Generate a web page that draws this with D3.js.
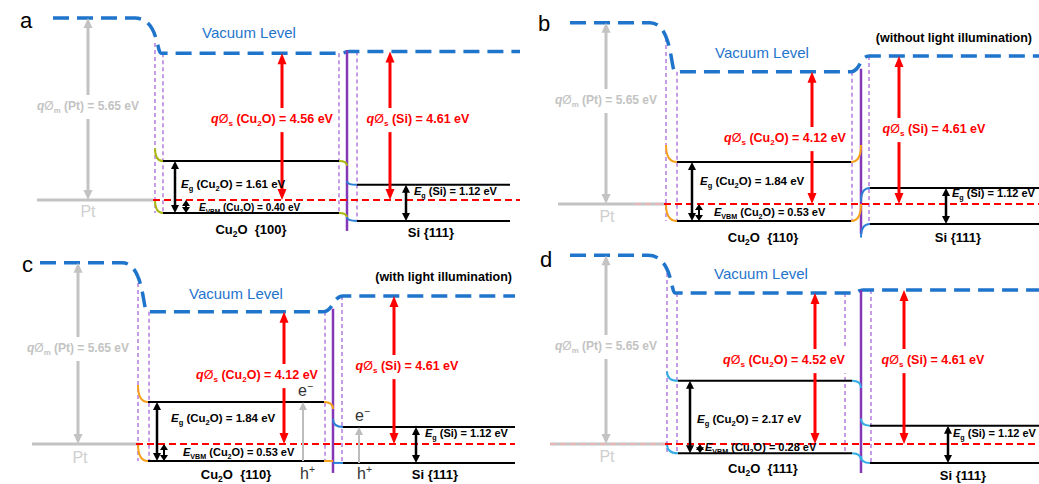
<!DOCTYPE html>
<html>
<head>
<meta charset="utf-8">
<script src="https://cdn.jsdelivr.net/npm/d3@7"></script>
<style>
  body { margin: 0; background: #fff; }
  text { font-family: Arial, "Liberation Sans", sans-serif; }
</style>
</head>
<body>
<script>
// ---- values shown in the figure ----
const panelIds = ["a", "b", "c", "d"];
const facets = ["{100}", "{110}", "{110}", "{111}"];
const notes = ["", "(without light illumination)", "(with light illumination)", ""];
const phiPt = 5.65;
const phiCu2O = [4.56, 4.12, 4.12, 4.52];
const egCu2O = [1.61, 1.84, 1.84, 2.17];
const evbmCu2O = [0.40, 0.53, 0.53, 0.28];
const phiSi = 4.61;
const egSi = 1.12;
// Si valence band below E_F, not labelled
const siVBM = [0.65, 0.62, 0.59, 0.57];
// band bending at the Cu2O / Si junction (eV, + is up)
const cuBendCB = [-0.15, 0.53, -0.22, -0.21];
const cuBendVB = [-0.15, 0.53, 0, -0.21];
const siBendCB = [0.12, -0.42, 0.25, 0.21];
const siBendVB = [0.12, -0.42, 0, 0.21];
const showCarriers = [false, false, true, false];

// ---- layout of each panel (pixels, panel local) ----
const geo = [
  {ox: 0, oy: 0, fy: 200, k: 32.2, letter: [20, 28], ptX0: 53, ptCorner: 135, d1: 155, d2: 163, d3: 339, d4: 357,
   cuX0: 163, cuX1: 339, purple: 347, siX0: 357, siX1: 510, vacStep: [341, 349], end: 520, ptLine: [37, 153], faint: null,
   phiMX: 88, phiMLabelY: 110, ptLabel: [88, 217], vacLabel: [249, 38], phiCuX: 282, phiCuLabel: [272, 123],
   phiSiX: 390, phiSiLabel: [418, 123], egX: 175, egLabel: [181, 188], evbmX: 186, evbmLabel: [199, 211], evbmSize: 10,
   egSiX: 406, egSiLabel: [414, 195], cuName: [251, 234], siName: [431, 237], d1Top: 43, note: null,
   cuColor: "#aab814", siColor: "#2b7fd6"},
  {ox: 520, oy: 0, fy: 204, k: 32.1, letter: [18, 31], ptX0: 50, ptCorner: 130, d1: 146, d2: 157, d3: 332, d4: 349,
   cuX0: 157, cuX1: 331, purple: 341, siX0: 350, siX1: 519, vacStep: [331, 349], end: 519, ptLine: [38, 146], faint: 115,
   phiMX: 86, phiMLabelY: 104, ptLabel: [87, 222], vacLabel: [242, 58], phiCuX: 292, phiCuLabel: [265, 142],
   phiSiX: 379, phiSiLabel: [414, 133], egX: 172, egLabel: [180, 185], evbmX: 179, evbmLabel: [194, 216], evbmSize: 11,
   egSiX: 426, egSiLabel: [432, 197], cuName: [243, 242], siName: [438, 242], d1Top: 38, note: [512, 42],
   cuColor: "#f5a11c", siColor: "#2b7fd6"},
  {ox: 0, oy: 240, fy: 204, k: 32.1, letter: [22, 32], ptX0: 40, ptCorner: 122, d1: 138, d2: 149, d3: 325, d4: 342,
   cuX0: 148, cuX1: 324, purple: 333, siX0: 343, siX1: 515, vacStep: [323, 343], end: 515, ptLine: [32, 140], faint: null,
   phiMX: 78, phiMLabelY: 112, ptLabel: [80, 223], vacLabel: [236, 59], phiCuX: 284, phiCuLabel: [257, 139],
   phiSiX: 394, phiSiLabel: [407, 130], egX: 157, egLabel: [171, 182], evbmX: 164, evbmLabel: [183, 216], evbmSize: 11,
   egSiX: 416, egSiLabel: [425, 197], cuName: [236, 239], siName: [435, 239], d1Top: 43, note: [512, 41],
   cuColor: "#f5a11c", siColor: "#2b7fd6",
   carrierX: [303, 359], eLabels: [[298, 156], [355, 181]], hLabels: [[300, 239], [357, 239]]},
  {ox: 520, oy: 240, fy: 204, k: 33.4, letter: [20, 27], ptX0: 50, ptCorner: 128, d1: 147, d2: 157, d3: 325, d4: 351,
   cuX0: 158, cuX1: 332, purple: 341, siX0: 350, siX1: 519, vacStep: [333, 343], end: 519, ptLine: [30, 147], faint: 30,
   phiMX: 86, phiMLabelY: 110, ptLabel: [87, 222], vacLabel: [241, 39], phiCuX: 295, phiCuLabel: [264, 124],
   phiSiX: 384, phiSiLabel: [413, 124], egX: 170, egLabel: [177, 183], evbmX: 180, evbmLabel: [185, 211], evbmSize: 11,
   egSiX: 428, egSiLabel: [433, 197], cuName: [243, 233], siName: [443, 240], d1Top: 33, note: null,
   cuColor: "#35ade4", siColor: "#35ade4"}
];

const W = 1039, H = 484;
const svg = d3.select("body").append("svg").attr("width", W).attr("height", H);

// text made of pieces, some italic / sub / superscript
function richText(g, x, y, segs, size, attrs) {
  const t = g.append("text").attr("x", x).attr("y", y).attr("font-size", size);
  Object.entries(attrs || {}).forEach(([k, v]) => t.attr(k, v));
  let shift = 0;
  segs.forEach(s => {
    const target = s.sub ? size * 0.25 : s.sup ? -size * 0.4 : 0;
    const ts = t.append("tspan").text(s.t).attr("dy", target - shift);
    shift = target;
    if (s.sub || s.sup) ts.attr("font-size", size * 0.65);
    if (s.i) ts.attr("font-style", "italic");
    if (s.n) ts.attr("font-weight", "normal");
  });
  return t;
}

// white box behind a label so the arrow looks broken there
function knockout(g, t, pad) {
  const b = t.node().getBBox();
  g.insert("rect", () => t.node())
    .attr("x", b.x - 1).attr("y", b.y - pad)
    .attr("width", b.width + 2).attr("height", b.height + 2 * pad)
    .attr("fill", "#fff");
}

function vArrow(g, x, y1, y2, o) {
  const top = o.top !== false, bottom = o.bottom !== false;
  const a = top ? y1 + o.hl * 0.8 : y1;
  const b = bottom ? y2 - o.hl * 0.8 : y2;
  g.append("line").attr("x1", x).attr("x2", x).attr("y1", a).attr("y2", b)
    .attr("stroke", o.color).attr("stroke-width", o.w);
  if (top) g.append("path")
    .attr("d", `M${x},${y1}L${x - o.hw / 2},${y1 + o.hl}L${x + o.hw / 2},${y1 + o.hl}Z`)
    .attr("fill", o.color);
  if (bottom) g.append("path")
    .attr("d", `M${x},${y2}L${x - o.hw / 2},${y2 - o.hl}L${x + o.hw / 2},${y2 - o.hl}Z`)
    .attr("fill", o.color);
}

const cu2o = [{t: " (Cu"}, {t: "2", sub: 1}, {t: "O)"}];
const RED = "#ff0000", GRAY = "#c3c3c3", VAC = "#1f74cc";

panelIds.forEach((id, i) => {
  const G = geo[i];
  const g = svg.append("g").attr("transform", `translate(${G.ox},${G.oy})`);
  const y = d3.scaleLinear().domain([0, phiPt]).range([G.fy, G.fy - G.k * phiPt]);
  const yF = y(0), yPt = y(phiPt), yCuV = y(phiCu2O[i]), ySiV = y(phiSi);
  const eVB = -evbmCu2O[i], eCB = egCu2O[i] - evbmCu2O[i];
  const sVB = -siVBM[i], sCB = egSi - siVBM[i];

  // panel letter
  g.append("text").attr("x", G.letter[0]).attr("y", G.letter[1])
    .attr("font-size", 22).text(id);

  // Pt Fermi level
  g.append("line").attr("x1", G.ptLine[0]).attr("x2", G.ptLine[1])
    .attr("y1", yF).attr("y2", yF).attr("stroke", GRAY).attr("stroke-width", 3);
  if (G.faint != null) {
    g.append("line").attr("x1", G.faint).attr("x2", G.d1).attr("y1", yF).attr("y2", yF)
      .attr("stroke", "#f3b3b3").attr("stroke-width", 1.5).attr("stroke-dasharray", "6 4");
  }

  // interface guide lines
  const verts = [[G.d1, G.d1Top, y(eVB)], [G.d2, yCuV, y(eVB)], [G.d3, yCuV, y(eVB)], [G.d4, ySiV, y(sVB)]];
  g.selectAll(".guide").data(verts).enter().append("line")
    .attr("x1", d => d[0]).attr("x2", d => d[0])
    .attr("y1", d => d[1]).attr("y2", d => d[2])
    .attr("stroke", "#a45ad6").attr("stroke-width", 1.2).attr("stroke-dasharray", "4 3");

  // vacuum level
  const xe = G.d2 - 2;
  const vac = d3.path();
  vac.moveTo(G.ptX0, yPt);
  vac.lineTo(G.ptCorner, yPt);
  vac.bezierCurveTo(xe - 3, yPt, xe - 4, yCuV, xe, yCuV);
  vac.lineTo(G.vacStep[0], yCuV);
  const mid = (G.vacStep[0] + G.vacStep[1]) / 2;
  vac.bezierCurveTo(mid, yCuV, mid, ySiV, G.vacStep[1], ySiV);
  vac.lineTo(G.end, ySiV);
  g.append("path").attr("d", vac.toString()).attr("fill", "none")
    .attr("stroke", VAC).attr("stroke-width", 3.5).attr("stroke-dasharray", "16 8");
  g.append("text").attr("x", G.vacLabel[0]).attr("y", G.vacLabel[1])
    .attr("text-anchor", "middle").attr("font-size", 15).attr("fill", VAC).text("Vacuum Level");

  // junction
  g.append("line").attr("x1", G.purple).attr("x2", G.purple)
    .attr("y1", yCuV - 3).attr("y2", y(sVB) + 10)
    .attr("stroke", "#8438b8").attr("stroke-width", 2.5);

  // bands with bending
  const bands = [[eCB, cuBendCB[i], sCB, siBendCB[i]], [eVB, cuBendVB[i], sVB, siBendVB[i]]];
  bands.forEach(([e, cb, s, sb]) => {
    const ev = evbmCu2O[i];
    g.append("path")
      .attr("d", `M${G.d1},${y(e + ev)}Q${G.d1},${y(e)} ${G.cuX0},${y(e)}`)
      .attr("fill", "none").attr("stroke", G.cuColor).attr("stroke-width", 2);
    g.append("path")
      .attr("d", `M${G.cuX1},${y(e)}Q${G.purple},${y(e)} ${G.purple},${y(e + cb)}`)
      .attr("fill", "none").attr("stroke", G.cuColor).attr("stroke-width", 2);
    g.append("path")
      .attr("d", `M${G.purple},${y(s + sb)}Q${G.purple},${y(s)} ${G.siX0},${y(s)}`)
      .attr("fill", "none").attr("stroke", G.siColor).attr("stroke-width", 2);
    g.append("line").attr("x1", G.cuX0).attr("x2", G.cuX1).attr("y1", y(e)).attr("y2", y(e))
      .attr("stroke", "#000").attr("stroke-width", 2);
    g.append("line").attr("x1", G.siX0).attr("x2", G.siX1).attr("y1", y(s)).attr("y2", y(s))
      .attr("stroke", "#000").attr("stroke-width", 2);
  });

  // Fermi level
  g.append("line").attr("x1", G.d1 - 2).attr("x2", G.end).attr("y1", yF).attr("y2", yF)
    .attr("stroke", RED).attr("stroke-width", 2).attr("stroke-dasharray", "7 4");

  // work function arrows
  vArrow(g, G.phiMX, yPt, yF, {color: GRAY, w: 3, hl: 10, hw: 9});
  const tM = richText(g, G.phiMX, G.phiMLabelY,
    [{t: "q", i: 1}, {t: "Ø", n: 1}, {t: "m", sub: 1}, {t: " (Pt) = " + phiPt.toFixed(2) + " eV"}], 12,
    {"text-anchor": "middle", "font-weight": "bold", fill: GRAY});
  knockout(g, tM, 4);
  g.append("text").attr("x", G.ptLabel[0]).attr("y", G.ptLabel[1]).attr("text-anchor", "middle")
    .attr("font-size", 16).attr("fill", "#cfcfcf").text("Pt");

  vArrow(g, G.phiCuX, yCuV, yF, {color: RED, w: 3, hl: 11, hw: 9});
  const tC = richText(g, G.phiCuLabel[0], G.phiCuLabel[1],
    [{t: "q", i: 1}, {t: "Ø", n: 1}, {t: "s", sub: 1}].concat(cu2o, [{t: " = " + phiCu2O[i].toFixed(2) + " eV"}]), 12.5,
    {"text-anchor": "middle", "font-weight": "bold", fill: RED});
  knockout(g, tC, 4);

  vArrow(g, G.phiSiX, ySiV, yF, {color: RED, w: 3, hl: 11, hw: 9});
  const tS = richText(g, G.phiSiLabel[0], G.phiSiLabel[1],
    [{t: "q", i: 1}, {t: "Ø", n: 1}, {t: "s", sub: 1}, {t: " (Si) = " + phiSi.toFixed(2) + " eV"}], 12.5,
    {"text-anchor": "middle", "font-weight": "bold", fill: RED});
  knockout(g, tS, 4);

  // gaps
  vArrow(g, G.egX, y(eCB), y(eVB), {color: "#000", w: 2.5, hl: 8, hw: 8});
  richText(g, G.egLabel[0], G.egLabel[1],
    [{t: "E", i: 1}, {t: "g", sub: 1}].concat(cu2o, [{t: " = " + egCu2O[i].toFixed(2) + " eV"}]), 11.5,
    {"font-weight": "bold"});
  vArrow(g, G.evbmX, yF, y(eVB), {color: "#000", w: 2, hl: 6, hw: 8});
  richText(g, G.evbmLabel[0], G.evbmLabel[1],
    [{t: "E", i: 1}, {t: "VBM", sub: 1}].concat(cu2o, [{t: " = " + evbmCu2O[i].toFixed(2) + " eV"}]), G.evbmSize,
    {"font-weight": "bold"});
  vArrow(g, G.egSiX, y(sCB), y(sVB), {color: "#000", w: 2.5, hl: 8, hw: 8});
  richText(g, G.egSiLabel[0], G.egSiLabel[1],
    [{t: "E", i: 1}, {t: "g", sub: 1}, {t: " (Si) = " + egSi.toFixed(2) + " eV"}], 11,
    {"font-weight": "bold"});

  // material names
  richText(g, G.cuName[0], G.cuName[1], [{t: "Cu"}, {t: "2", sub: 1}, {t: "O  " + facets[i]}], 13,
    {"text-anchor": "middle", "font-weight": "bold", style: "white-space:pre"});
  g.append("text").attr("x", G.siName[0]).attr("y", G.siName[1]).attr("text-anchor", "middle")
    .attr("font-size", 13).attr("font-weight", "bold").text("Si {111}");

  if (G.note) {
    g.append("text").attr("x", G.note[0]).attr("y", G.note[1]).attr("text-anchor", "end")
      .attr("font-size", 12.5).attr("font-weight", "bold").text(notes[i]);
  }

  // photo-generated carriers
  if (showCarriers[i]) {
    const pairs = [[y(eVB), y(eCB)], [y(sVB), y(sCB)]];
    pairs.forEach((p, j) => {
      vArrow(g, G.carrierX[j], p[1], p[0], {color: "#bdbdbd", w: 2, hl: 8, hw: 8, bottom: false});
      richText(g, G.eLabels[j][0], G.eLabels[j][1], [{t: "e"}, {t: "−", sup: 1}], 16, {fill: "#333"});
      richText(g, G.hLabels[j][0], G.hLabels[j][1], [{t: "h"}, {t: "+", sup: 1}], 16, {fill: "#333"});
    });
  }
});
</script>
</body>
</html>
